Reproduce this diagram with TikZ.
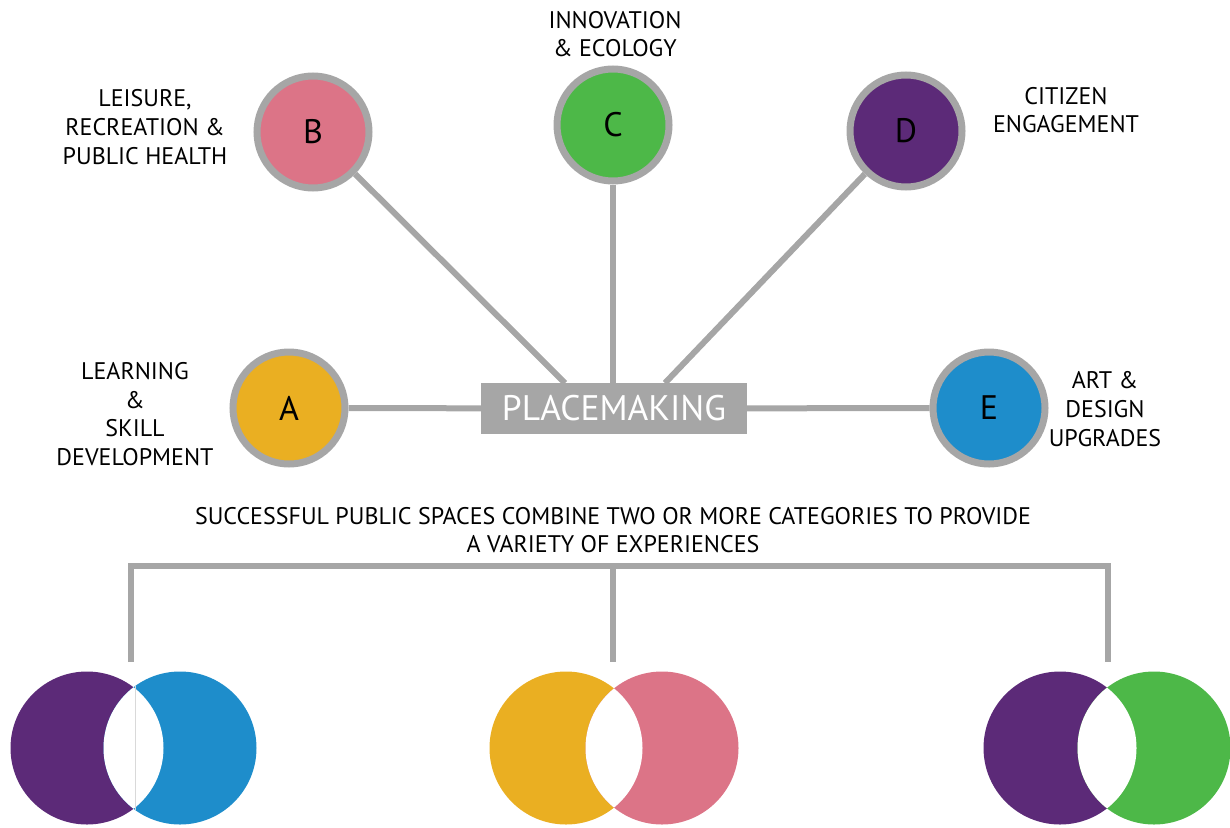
\documentclass[tikz,border=0pt]{standalone}
\usepackage{fontspec}
\setmainfont{PT Sans}
\definecolor{ringgray}{HTML}{A6A6A6}
\definecolor{cA}{HTML}{EAAF22}
\definecolor{cB}{HTML}{DC7487}
\definecolor{cC}{HTML}{4DB848}
\definecolor{cD}{HTML}{5C2A78}
\definecolor{cE}{HTML}{1E8DCB}
\tikzset{
  cat/.style={circle, draw=ringgray, line width=7pt, minimum size=112pt, inner sep=0pt, font=\fontsize{34}{40}\selectfont},
  lbl/.style={align=center, font=\fontsize{24}{28.7}\selectfont, inner sep=0pt},
  conn/.style={draw=ringgray, line width=6pt},
  pbox/.style={fill=ringgray, minimum width=266pt, minimum height=51pt, inner sep=0pt, text=white, font=\fontsize{35.5}{40}\selectfont},
}
\begin{document}
\begin{tikzpicture}[x=1pt,y=-1pt]
\useasboundingbox (0,0) rectangle (1230,827);
% central box
\node[pbox] (P) at (614,408.5) {PLACEMAKING};
% category circles
\node[cat, fill=cA] (A) at (289,408) {A};
\node[cat, fill=cB] (B) at (313,132) {B};
\node[cat, fill=cC] (C) at (613,125) {C};
\node[cat, fill=cD] (D) at (906,131) {D};
\node[cat, fill=cE] (E) at (989,408) {E};
% connector ends on box
\coordinate (pb) at (565,383);
\coordinate (pc) at (613,383);
\coordinate (pd) at (665,383);
\draw[conn] (A) -- (P);
\draw[conn] (E) -- (P);
\draw[conn] (B) -- (pb);
\draw[conn] (C) -- (pc);
\draw[conn] (D) -- (pd);
% labels
\node[lbl] (lA) at (135,414) {LEARNING\\\&\\SKILL\\DEVELOPMENT};
\node[lbl] (lB) at (145,127) {LEISURE,\\RECREATION \&\\PUBLIC HEALTH};
\node[lbl] (lC) at (615,34) {INNOVATION\\\& ECOLOGY};
\node[lbl] (lD) at (1066,110) {CITIZEN\\ENGAGEMENT};
\node[lbl] (lE) at (1105,409) {ART \&\\DESIGN\\UPGRADES};
\node[lbl] (lS) at (613,530) {SUCCESSFUL PUBLIC SPACES COMBINE TWO OR MORE CATEGORIES TO PROVIDE\\A VARIETY OF EXPERIENCES};
% bracket
\coordinate (b1) at (131,566);
\coordinate (b2) at (613,566);
\coordinate (b3) at (1108,566);
\coordinate (e1) at (131,662);
\coordinate (e2) at (613,662);
\coordinate (e3) at (1108,662);
\draw[draw=ringgray, line width=6pt] (e1) -- (b1) -- (b3) -- (e3);
\draw[conn] (b2) -- (e2);
% venns
\def\vr{76.5}
\fill[cD] (87,748) circle (\vr);
\fill[cE] (180,748) circle (\vr);
\begin{scope}\clip (87,748) circle (\vr); \fill[white] (180,748) circle (\vr); \end{scope}
\draw[black!15, line width=0.6pt] (135,686) -- (135,810);
\fill[cA] (566,748) circle (\vr);
\fill[cB] (662,748) circle (\vr);
\begin{scope}\clip (566,748) circle (\vr); \fill[white] (662,748) circle (\vr); \end{scope}
\fill[cD] (1060,748) circle (\vr);
\fill[cC] (1154,748) circle (\vr);
\begin{scope}\clip (1060,748) circle (\vr); \fill[white] (1154,748) circle (\vr); \end{scope}
\end{tikzpicture}
\end{document}
